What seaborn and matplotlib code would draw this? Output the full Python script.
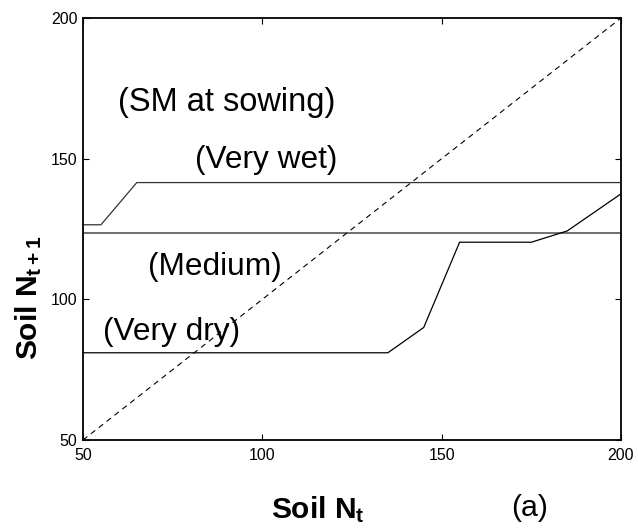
import matplotlib
matplotlib.use("Agg")
import matplotlib.pyplot as plt
import seaborn as sns
import pandas as pd

# Data
very_wet_x = [50, 55, 65, 200]
very_wet_y = [126.5, 126.5, 141.5, 141.5]
medium_x = [50, 200]
medium_y = [123.5, 123.5]
very_dry_x = [50, 135, 145, 155, 175, 185, 200]
very_dry_y = [81, 81, 90, 120.3, 120.3, 124.3, 137.5]
diag_x = [50, 200]
diag_y = [50, 200]
ticks = [50, 100, 150, 200]

sns.set_style("white")
plt.rcParams['font.family'] = ['Liberation Sans', 'DejaVu Sans']
plt.rcParams['text.color'] = 'black'
plt.rcParams['axes.labelcolor'] = 'black'
plt.rcParams['xtick.color'] = 'black'
plt.rcParams['ytick.color'] = 'black'
plt.rcParams['mathtext.fontset'] = 'custom'
plt.rcParams['mathtext.rm'] = 'Liberation Sans'
plt.rcParams['mathtext.bf'] = 'Liberation Sans:bold'
plt.rcParams['mathtext.it'] = 'Liberation Sans:italic'

fig = plt.figure(figsize=(6.38, 5.32), dpi=100)
ax = fig.add_axes([83/638, 92/532, 538/638, 422/532])

df_wet = pd.DataFrame({'x': very_wet_x, 'y': very_wet_y})
df_med = pd.DataFrame({'x': medium_x, 'y': medium_y})
df_dry = pd.DataFrame({'x': very_dry_x, 'y': very_dry_y})
df_diag = pd.DataFrame({'x': diag_x, 'y': diag_y})

sns.lineplot(data=df_wet, x='x', y='y', ax=ax, color='#333333', lw=0.9, sort=False)
sns.lineplot(data=df_med, x='x', y='y', ax=ax, color='#707070', lw=1.4, sort=False)
sns.lineplot(data=df_dry, x='x', y='y', ax=ax, color='black', lw=0.9, sort=False)
sns.lineplot(data=df_diag, x='x', y='y', ax=ax, color='black', lw=0.8, sort=False)
ax.lines[-1].set_dashes([5, 4])

ax.set_xlim(50, 200)
ax.set_ylim(50, 200)
ax.set_xticks(ticks)
ax.set_yticks(ticks)
ax.set_xticklabels([str(t) for t in ticks])
ax.set_yticklabels([str(t) for t in ticks])
ax.tick_params(direction='in', length=4, width=0.8, labelsize=11.5,
               top=True, right=True, bottom=True, left=True, colors='black')
ax.tick_params(axis='x', pad=6)
ax.tick_params(axis='y', pad=4)
for sp in ax.spines.values():
    sp.set_visible(True)
    sp.set_color('black')
    sp.set_linewidth(1.3)

fs = 22.8
ax.text(59.8, 167.1, '(SM at sowing)', fontsize=23.5, ha='left', va='baseline')
ax.text(81.2, 146.7, '(Very wet)', fontsize=fs, ha='left', va='baseline')
ax.text(68.1, 108.7, '(Medium)', fontsize=fs, ha='left', va='baseline')
ax.text(55.6, 85.5, '(Very dry)', fontsize=fs, ha='left', va='baseline')

ax.set_xlabel(r'$\mathbf{Soil\ N_{t}}$', fontsize=21.5)
ax.set_ylabel(r'$\mathbf{Soil\ N_{t+1}}$', fontsize=21.5)
ax.xaxis.set_label_coords(0.437, -0.166)
ax.yaxis.set_label_coords(-0.101, 0.336)
ax.xaxis.label.set_va('center')
ax.yaxis.label.set_va('center')
fig.text(530/638, 1 - 508/532, '(a)', fontsize=21.8, ha='center', va='center')

fig.savefig('out.png', dpi=100)
